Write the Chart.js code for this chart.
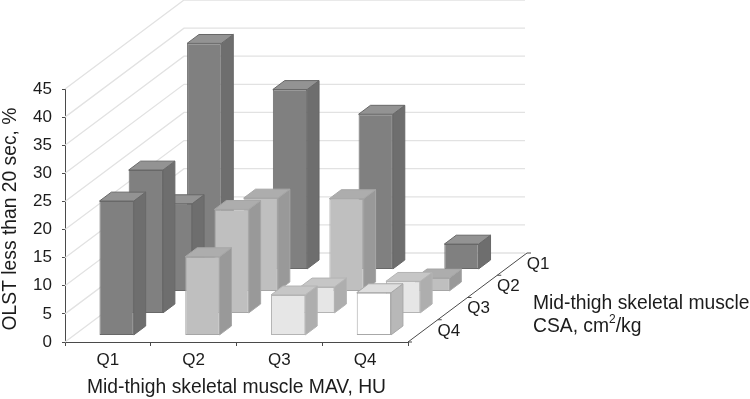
<!DOCTYPE html>
<html>
<head>
<meta charset="utf-8">
<title>OLST chart</title>
<script src="https://cdn.jsdelivr.net/npm/chart.js@4/dist/chart.umd.min.js"></script>
<style>
  body { margin: 0; background: #fff; }
  canvas { display: block; }
</style>
</head>
<body>
<canvas id="chart" width="750" height="399"></canvas>
<script>
const mavLabels = ['Q1', 'Q2', 'Q3', 'Q4'];
const csaLabels = ['Q4', 'Q3', 'Q2', 'Q1']; // front row first
const csaQ4 = [23.9, 14, 7.2, 7.6];
const csaQ3 = [25.5, 18.5, 4.7, 5.7];
const csaQ2 = [15.6, 16.6, 16.5, 2.4];
const csaQ1 = [40.2, 32, 27.6, 4.5];
const yTicks = [0, 5, 10, 15, 20, 25, 30, 35, 40, 45];

// front, top, side, outline
const dark = ['#808080', '#939393', '#6e6e6e', '#686868'];
const mid = ['#bfbfbf', '#adadad', '#999999', '#a6a6a6'];
const pale = ['#e6e6e6', '#c6c6c6', '#aeaeae', '#b4b4b4'];
const white = ['#ffffff', '#dedede', '#b8b8b8', '#a8a8a8'];
const rowShades = [
  [dark, mid, pale, white],
  [dark, mid, pale, pale],
  [dark, mid, mid, mid],
  [dark, dark, dark, dark]
];

// oblique projection of the floor
const depthX = 119;
const depthY = -89;
const rowStepX = 29.2;
const rowStepY = -22;
const barDepthX = 11.9;
const barDepthY = -8.9;
const font = '"Liberation Sans", Arial, sans-serif';
const textColor = '#1c1c1c';

const rowOffset = function(row) {
  return { x: rowStepX * (row + 0.3), y: rowStepY * (row + 0.3) };
};

const wall = {
  id: 'wall',
  beforeDatasetsDraw(chart) {
    const ctx = chart.ctx;
    const y = chart.scales.y;
    const area = chart.chartArea;
    ctx.save();
    ctx.strokeStyle = '#e2e2e2';
    ctx.lineWidth = 1.3;
    yTicks.forEach(function(v) {
      const py = y.getPixelForValue(v);
      ctx.beginPath();
      ctx.moveTo(area.left, py);
      ctx.lineTo(area.left + depthX, py + depthY);
      ctx.lineTo(area.right + depthX - 2, py + depthY);
      ctx.stroke();
    });
    ctx.restore();
  },
  afterDraw(chart) {
    const ctx = chart.ctx;
    const area = chart.chartArea;
    ctx.save();
    ctx.strokeStyle = '#4a4a4a';
    ctx.lineWidth = 1;
    ctx.beginPath();
    ctx.moveTo(area.right, area.bottom);
    ctx.lineTo(area.right + depthX, area.bottom + depthY);
    for (let i = 0; i <= csaLabels.length; i++) {
      const t = i / csaLabels.length;
      ctx.moveTo(area.right + depthX * t, area.bottom + depthY * t);
      ctx.lineTo(area.right + depthX * t + 4, area.bottom + depthY * t);
    }
    ctx.stroke();
    ctx.fillStyle = textColor;
    ctx.font = '17px ' + font;
    ctx.textAlign = 'center';
    ctx.textBaseline = 'middle';
    csaLabels.forEach(function(label, i) {
      const t = (i + 0.5) / csaLabels.length;
      ctx.fillText(label, area.right + depthX * t + 26, area.bottom + depthY * t);
    });
    ctx.font = '19.3px ' + font;
    ctx.textAlign = 'left';
    ctx.fillText('Mid-thigh skeletal muscle', 533, 304);
    // second line has a superscript 2
    let x = 533;
    ctx.fillText('CSA, cm', x, 327);
    x += ctx.measureText('CSA, cm').width;
    ctx.font = '12px ' + font;
    ctx.fillText('2', x, 320);
    x += ctx.measureText('2').width;
    ctx.font = '19.3px ' + font;
    ctx.fillText('/kg', x, 327);
    // y axis title sits a little below the middle of the axis
    ctx.translate(15.5, 219);
    ctx.rotate(-Math.PI / 2);
    ctx.textAlign = 'center';
    ctx.textBaseline = 'alphabetic';
    ctx.fillText('OLST less than 20 sec, %', 0, 0);
    ctx.restore();
  }
};

const bars3d = {
  id: 'bars3d',
  beforeDatasetDraw(chart, args) {
    const ctx = chart.ctx;
    const off = rowOffset(args.index);
    ctx.save();
    ctx.translate(off.x, off.y);
    args.meta.data.forEach(function(bar, i) {
      const p = bar.getProps(['x', 'y', 'base', 'width'], true);
      const l = p.x - p.width / 2;
      const r = p.x + p.width / 2;
      const shade = rowShades[args.index][i];
      ctx.strokeStyle = shade[3];
      ctx.lineWidth = 1;
      // side
      ctx.fillStyle = shade[2];
      ctx.beginPath();
      ctx.moveTo(r, p.y);
      ctx.lineTo(r + barDepthX, p.y + barDepthY);
      ctx.lineTo(r + barDepthX, p.base + barDepthY);
      ctx.lineTo(r, p.base);
      ctx.closePath();
      ctx.fill();
      ctx.stroke();
      // top
      ctx.fillStyle = shade[1];
      ctx.beginPath();
      ctx.moveTo(l, p.y);
      ctx.lineTo(l + barDepthX, p.y + barDepthY);
      ctx.lineTo(r + barDepthX, p.y + barDepthY);
      ctx.lineTo(r, p.y);
      ctx.closePath();
      ctx.fill();
      ctx.stroke();
    });
  },
  afterDatasetDraw(chart) {
    chart.ctx.restore();
  }
};

const makeRow = function(values, row) {
  return {
    label: csaLabels[row],
    data: values,
    backgroundColor: rowShades[row].map(function(s) { return s[0]; }),
    borderColor: rowShades[row].map(function(s) { return s[3]; }),
    borderWidth: 1,
    borderSkipped: false,
    clip: false
  };
};

new Chart(document.getElementById('chart'), {
  type: 'bar',
  data: {
    labels: mavLabels,
    datasets: [csaQ4, csaQ3, csaQ2, csaQ1].map(makeRow)
  },
  plugins: [wall, bars3d],
  options: {
    responsive: false,
    animation: false,
    layout: { padding: { left: 0, top: 89, right: 342, bottom: 0 } },
    plugins: { legend: { display: false }, tooltip: { enabled: false } },
    datasets: { bar: { grouped: false, barPercentage: 0.4, categoryPercentage: 1 } },
    scales: {
      x: {
        afterFit(scale) { scale.height = 57; },
        border: { color: '#4a4a4a', width: 1 },
        grid: { drawOnChartArea: false, tickLength: 4, tickColor: '#4a4a4a', offset: true },
        ticks: { color: textColor, font: { family: font, size: 17 }, padding: 4, maxRotation: 0 },
        title: {
          display: true,
          text: 'Mid-thigh skeletal muscle MAV, HU',
          color: textColor,
          font: { family: font, size: 19.3 },
          padding: { top: 4, bottom: 0 }
        }
      },
      y: {
        min: 0,
        max: 45,
        afterFit(scale) { scale.width = 65; },
        afterBuildTicks(scale) { scale.ticks = yTicks.map(function(v) { return { value: v }; }); },
        border: { color: '#4a4a4a', width: 1 },
        grid: { drawOnChartArea: false, tickLength: 3, tickColor: '#4a4a4a' },
        ticks: { color: textColor, font: { family: font, size: 17 }, padding: 10 }
      }
    }
  }
});
</script>
</body>
</html>
